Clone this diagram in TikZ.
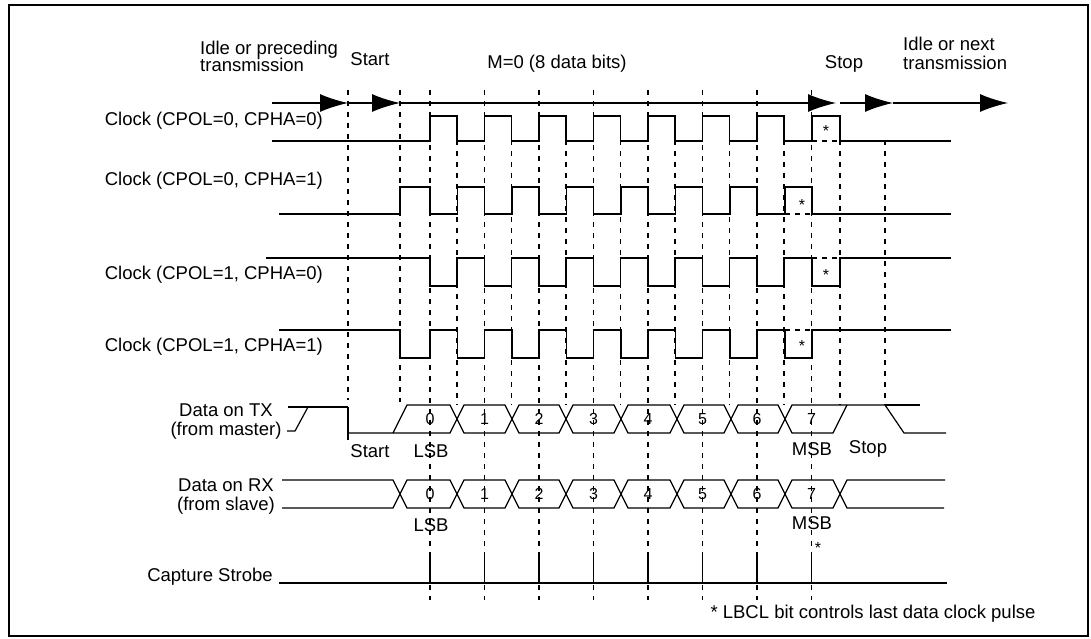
\documentclass[tikz,border=0pt]{standalone}
\usepackage{fontspec}
\setmainfont{Liberation Sans}
\usepackage{tikz}
\usetikzlibrary{arrows.meta,positioning}

\tikzset{
  wave/.style={line width=1.6pt},
  dat/.style={line width=1.2pt},
  grid/.style={line width=1.6pt,dash pattern=on 5pt off 6pt},
  opt/.style={line width=1.6pt,dash pattern=on 5pt off 5pt},
  big/.style={line width=1.4pt,-{Latex[length=28pt,width=18pt]}},
  lbl/.style={font=\fontsize{18.5}{19}\selectfont,inner sep=0pt},
  sml/.style={font=\fontsize{16}{17}\selectfont,inner sep=0pt}
}

\begin{document}
\begin{tikzpicture}[x=1pt,y=-1pt]
    \useasboundingbox (0,0) rectangle (1091,639);
    \draw[line width=1.2pt] (9,5) rectangle (1088,636);

    % dashed timing grid
    \draw[grid] (348,90) -- (348,400);
    \draw[grid] (400,90) -- (400,402);
    \foreach \k in {0,...,7}
        \draw[grid] ({430+54.5*\k},90) -- ({430+54.5*\k},600);
    \foreach \k in {0,...,6}
        \draw[grid] ({457+54.5*\k},140) -- ({457+54.5*\k},405);
    \draw[grid] (840,140) -- (840,405);
    \draw[grid] (885,140) -- (885,405);

    % time line
    \coordinate (t0) at (272,103);
    \coordinate (t1) at (348,103);
    \coordinate (t2) at (400,103);
    \coordinate (t3) at (836,103);
    \coordinate (t4) at (840,103);
    \coordinate (t5) at (893,103);
    \coordinate (t6) at (1008,103);
    \draw[big] (t0) -- (t1);
    \draw[big] (t1) -- (t2);
    \draw[big] (t2) -- (t3);
    \draw[big] (t4) -- (t5);
    \draw[big] (t5) -- (t6);

    \node[lbl,align=left,anchor=west] (idle) at (200,56) {Idle or preceding\\[-2pt]transmission};
    \node[lbl] (start) at (370,59) {Start};
    \node[lbl] (mzero) at (557,64) {M=0 (8 data bits)};
    \node[lbl] (stop) at (844,64) {Stop};
    \node[lbl,align=left,anchor=west] (next) at (903,53) {Idle or next\\transmission};

    % clock CPOL=0, CPHA=0
    \node[lbl,anchor=east] (c1) at (323,121) {Clock (CPOL=0, CPHA=0)};
    \draw[wave] (272,141) \foreach \k in {0,...,6} {
        -- ({430+54.5*\k},141) -- ({430+54.5*\k},116)
        -- ({457+54.5*\k},116) -- ({457+54.5*\k},141)} -- (812,141);
    \draw[wave] (812,141) -- (812,116) -- (840,116) -- (840,141) -- (951,141);
    \draw[opt] (812,141) -- (840,141);
    \node[sml] (s1) at (826,131) {*};

    % clock CPOL=0, CPHA=1
    \node[lbl,anchor=east] (c2) at (323,181) {Clock (CPOL=0, CPHA=1)};
    \draw[wave] (279,214) -- (400,214) -- (400,187) -- (430,187) -- (430,214)
        \foreach \k in {1,...,6} {
        -- ({403+54.5*\k},214) -- ({403+54.5*\k},187)
        -- ({430+54.5*\k},187) -- ({430+54.5*\k},214)} -- (785,214);
    \draw[wave] (785,214) -- (785,187) -- (812,187) -- (812,214) -- (951,214);
    \draw[opt] (785,214) -- (812,214);
    \node[sml] (s2) at (802,205) {*};

    % clock CPOL=1, CPHA=0
    \node[lbl,anchor=east] (c3) at (323,275) {Clock (CPOL=1, CPHA=0)};
    \draw[wave] (266,258) \foreach \k in {0,...,6} {
        -- ({430+54.5*\k},258) -- ({430+54.5*\k},286)
        -- ({457+54.5*\k},286) -- ({457+54.5*\k},258)} -- (812,258);
    \draw[wave] (812,258) -- (812,286) -- (840,286) -- (840,258) -- (951,258);
    \draw[opt] (812,258) -- (840,258);
    \node[sml] (s3) at (826,275) {*};

    % clock CPOL=1, CPHA=1
    \node[lbl,anchor=east] (c4) at (323,347) {Clock (CPOL=1, CPHA=1)};
    \draw[wave] (279,330) -- (400,330) -- (400,358) -- (430,358) -- (430,330)
        \foreach \k in {1,...,6} {
        -- ({403+54.5*\k},330) -- ({403+54.5*\k},358)
        -- ({430+54.5*\k},358) -- ({430+54.5*\k},330)} -- (785,330);
    \draw[wave] (785,330) -- (785,358) -- (812,358) -- (812,330) -- (951,330);
    \draw[opt] (785,330) -- (812,330);
    \node[sml] (s4) at (802,346) {*};

    % data on TX
    \node[lbl,align=center] (tx) at (226,422) {Data on TX\\(from master)};
    \draw[dat] (288,407) -- (348,407);
    \draw[dat] (287,431) -- (295,431) -- (308,407);
    \draw[wave] (348,407) -- (348,440);
    \draw[dat] (348,433) -- (450,433) -- (457,419);
    \draw[dat] (393,433) -- (407,405) -- (450,405) -- (457,419);
    \foreach \a/\b in {457/512,512/566,566/621,621/677,677/731,731/785}
        \draw[dat] (\a,419) -- ({\a+7},405) -- ({\b-7},405) -- (\b,419)
            -- ({\b-7},433) -- ({\a+7},433) -- cycle;
    \draw[dat] (785,419) -- (792,405) -- (885,405) -- (904,433) -- (946,433);
    \draw[dat] (885,405) -- (920,405);
    \draw[dat] (785,419) -- (792,433) -- (833,433) -- (847,405);
    \foreach \k in {0,...,7}
        \node[sml] (tb\k) at ({430+54.5*\k},419) {\k};
    \node[lbl] (txs) at (370,451) {Start};
    \node[lbl] (txl) at (431,451) {LSB};
    \node[lbl] (txm) at (812,449) {MSB};
    \node[lbl] (txp) at (868,449) {Stop};

    % data on RX
    \node[lbl,align=center] (rx) at (226,497) {Data on RX\\(from slave)};
    \draw[dat] (282,480) -- (393,480) -- (400,494) -- (393,508) -- (282,508);
    \foreach \a/\b in {400/457,457/512,512/566,566/621,621/677,677/731,731/785,785/840}
        \draw[dat] (\a,494) -- ({\a+7},480) -- ({\b-7},480) -- (\b,494)
            -- ({\b-7},508) -- ({\a+7},508) -- cycle;
    \draw[dat] (945,480) -- (847,480) -- (840,494) -- (847,508) -- (944,508);
    \foreach \k in {0,...,7}
        \node[sml] (rb\k) at ({430+54.5*\k},494) {\k};
    \node[lbl] (rxl) at (431,525) {LSB};
    \node[lbl] (rxm) at (812,523) {MSB};
    \node[sml] (s5) at (818,548) {*};

    % capture strobe
    \node[lbl] (cs) at (210,577) {Capture Strobe};
    \draw[wave] (279,583) -- (947,583);
    \foreach \k in {0,...,7}
        \draw[wave] ({430+54.5*\k},557) -- ({430+54.5*\k},583);

    \node[lbl] (note) at (873,614) {* LBCL bit controls last data clock pulse};
\end{tikzpicture}
\end{document}
